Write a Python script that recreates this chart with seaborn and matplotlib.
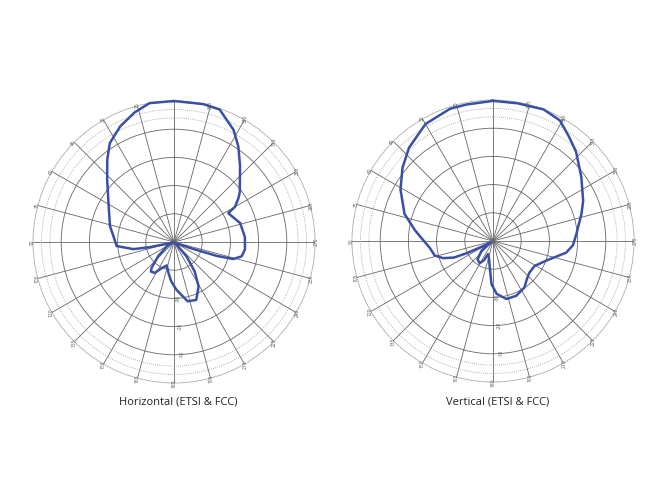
import numpy as np
import pandas as pd
import matplotlib
matplotlib.use("Agg")
import matplotlib.pyplot as plt
import seaborn as sns

# Radiation pattern values (angle in deg CCW from top, level in dB)
horiz_angle = [0, 10, 17, 25, 33, 39, 47, 61, 76, 85, 94, 100, 102, 104, 112, 121, 132,
               139, 142, 148, 155, 163, 170, 176, 183, 193, 201, 209, 215, 221, 230, 243,
               250, 252, 254, 258, 264, 274, 286, 296, 298, 300, 304, 307, 319, 326, 332,
               341, 348, 360]
horiz_db = [0, 0, -2, -4.8, -8.2, -12.4, -17.6, -23.5, -26.6, -28.5, -29.6, -35.4, -41.3,
            -47.3, -49.5, -47, -42.4, -37.9, -36.7, -37.1, -39.8, -41.3, -38.8, -36, -33,
            -28.4, -28, -32, -37.2, -43.2, -49.5, -49, -43, -34, -28.1, -25.5, -24.7,
            -24.8, -25.6, -27.9, -28.2, -25, -22.5, -20.8, -14.3, -9.2, -5, -0.3, 0, 0]

vert_angle = [0, 11, 18, 30, 42, 51, 61, 73, 82, 86, 96, 104, 109, 113, 115, 117, 124,
              130, 140, 149, 155, 159, 166, 173, 178, 184, 193, 203, 214, 222, 229, 239,
              250, 258, 261, 267, 275, 287, 294, 306, 317, 324, 331, 339, 350, 360]
vert_db = [-0.3, -0.7, -0.7, -2.1, -5.5, -8.7, -12.5, -17.2, -22, -23.9, -27.4, -28.7,
           -31.3, -35, -40, -46, -49, -44.7, -41.5, -40.8, -42.5, -45, -44, -40.6, -34.7,
           -31.2, -28.9, -28.9, -30.1, -32, -32.9, -32.8, -29.8, -25.8, -23.7, -21.6,
           -20.3, -17.2, -15, -11.3, -6.8, -4.2, -1.1, 0, -0.4, -0.3]

ring_levels = [-40, -30, -20, -10, -6, -3]
ring_labels = ["-30", "-20", "-10"]
label_levels = [-30, -20, -10]
spoke_angles = list(range(0, 360, 15))
titles = ["Horizontal (ETSI & FCC)", "Vertical (ETSI & FCC)"]

LINE = "#3a4fa6"
GRID = "#666666"

sns.set_style("white")
plt.rcParams['font.family'] = ['Open Sans', 'DejaVu Sans']

fig = plt.figure(figsize=(6.45, 5.0), dpi=100)

# axes placement: centres at (174,242) and (493,241), radius ~141 px
boxes = [[(174 - 141) / 645, (500 - 242 - 141) / 500, 282 / 645, 282 / 500],
         [(493 - 141) / 645, (500 - 241 - 141) / 500, 282 / 645, 282 / 500]]
series = [(horiz_angle, horiz_db), (vert_angle, vert_db)]

for box, (ang, db), title in zip(boxes, series, titles):
    ax = fig.add_axes(box, projection='polar')
    ax.set_theta_zero_location('N')
    ax.set_theta_direction(1)
    ax.set_ylim(-50, 0)

    df = pd.DataFrame({'theta': np.deg2rad(ang), 'db': db})
    sns.lineplot(data=df, x='theta', y='db', sort=False, ax=ax, color=LINE,
                 linewidth=1.8, clip_on=False, zorder=5)
    ax.set_xlabel('')
    ax.set_ylabel('')

    # grid: spokes every 15 deg, solid rings + dotted rings near the edge
    ax.set_xticks(np.deg2rad(spoke_angles))
    ax.set_xticklabels([])
    ax.set_yticks(ring_levels)
    ax.set_yticklabels([])
    ax.grid(True)
    for gl in ax.xaxis.get_gridlines():
        gl.set_color(GRID)
        gl.set_linewidth(0.6)
        gl.set_linestyle('-')
    for lvl, gl in zip(ring_levels, ax.yaxis.get_gridlines()):
        if lvl > -10:
            gl.set_color('#9a9a9a')
            gl.set_linestyle((0, (1, 1.5)))
            gl.set_linewidth(0.6)
        else:
            gl.set_color(GRID)
            gl.set_linestyle('-')
            gl.set_linewidth(0.6)
    ax.spines['polar'].set_color('#9a9a9a')
    ax.spines['polar'].set_linestyle((0, (1, 1.5)))
    ax.spines['polar'].set_linewidth(0.6)
    ax.tick_params(length=0)

    # angle labels sitting at the end of each spoke
    for a in spoke_angles:
        ax.text(np.deg2rad(a), 0.3, str(a), rotation=90, fontsize=3.5, color='#555555',
                ha='center', va='center', zorder=6)
    # level labels along the 180 deg spoke
    for lvl, lab in zip(label_levels, ring_labels):
        ax.text(np.deg2rad(184), lvl, lab, rotation=90, fontsize=3.5, color='#555555',
                ha='center', va='center', zorder=6)

    cx = box[0] + box[2] / 2
    fig.text(cx + 0.007, (500 - 402) / 500, title, ha='center', va='center',
             fontsize=8.0, color='#222222')

fig.savefig("out.png", dpi=100, facecolor='white')
